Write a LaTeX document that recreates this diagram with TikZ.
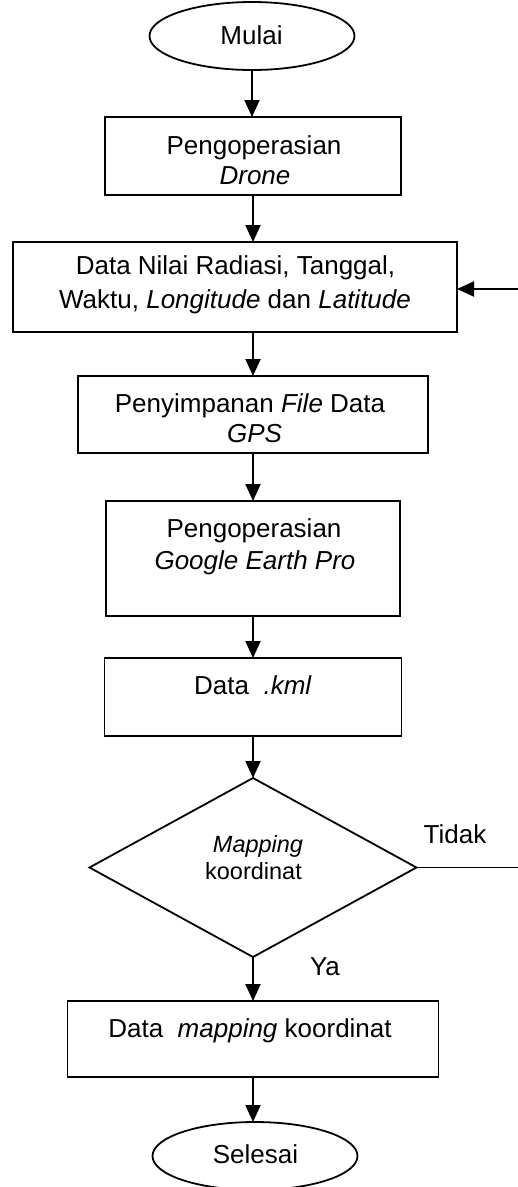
\documentclass[tikz,border=0pt]{standalone}
\usepackage{fontspec}
\setmainfont{Liberation Sans}
\usetikzlibrary{shapes.geometric,arrows.meta}
\begin{document}
\begin{tikzpicture}[x=1pt,y=-1pt,
  box/.style={draw,line width=1.8pt,inner sep=0pt,outer sep=0pt,rectangle},
  term/.style={draw,line width=1.8pt,ellipse,inner sep=0pt,outer sep=0pt,minimum width=205pt,minimum height=68pt},
  txt/.style={anchor=base,inner sep=0pt,font=\fontsize{26}{30}\selectfont},
  smalltxt/.style={anchor=base,inner sep=0pt,font=\fontsize{23.5}{27}\selectfont},
  arr/.style={line width=2pt,-{Triangle[length=17pt,width=15pt]}},
  ln/.style={line width=1.8pt}]
\useasboundingbox (0,0) rectangle (518,1187);

% shapes
\node[term] (Mulai) at (252,36) {};
\node[box,minimum width=296pt,minimum height=78pt] (b1) at (253,156) {};
\node[box,minimum width=444pt,minimum height=90pt] (b2) at (235,287) {};
\node[box,minimum width=350pt,minimum height=77pt] (b3) at (253,414.5) {};
\node[box,minimum width=294pt,minimum height=115pt] (b4) at (253,558.5) {};
\node[box,minimum width=297pt,minimum height=78pt] (b5) at (253,697) {};
\node[draw,line width=1.8pt,diamond,inner sep=0pt,outer sep=0pt,minimum width=327pt,minimum height=179pt] (dec) at (253,867.5) {};
\node[box,minimum width=371pt,minimum height=76pt] (b6) at (253,1039) {};
\node[term] (Selesai) at (255,1156) {};

% texts
\node[txt] (tMulai) at (251.5,44) {Mulai};
\node[txt] (t1a) at (254,154) {Pengoperasian};
\node[txt] (t1b) at (255,184) {\itshape Drone};
\node[txt] (t2a) at (235.5,274) {Data Nilai Radiasi, Tanggal,};
\node[txt] (t2b) at (235,308) {Waktu, \textit{Longitude} dan \textit{Latitude}};
\node[txt] (t3a) at (250,412) {Penyimpanan \textit{File} Data};
\node[txt] (t3b) at (254.5,442) {\itshape GPS};
\node[txt] (t4a) at (254,537) {Pengoperasian};
\node[txt] (t4b) at (255,569) {\itshape Google Earth Pro};
\node[txt] (t5) at (253,694) {Data\ \ \textit{.kml}};
\node[smalltxt] (tda) at (258,852) {\itshape Mapping};
\node[smalltxt] (tdb) at (253.5,879) {koordinat};
\node[txt] (tTidak) at (455,843) {Tidak};
\node[txt] (tYa) at (325,975) {Ya};
\node[txt] (t6) at (250,1037) {Data\ \ \textit{mapping} koordinat};
\node[txt] (tSelesai) at (255.5,1163) {Selesai};

% connectors
\draw[arr] (Mulai.south) -- (Mulai.south |- b1.north);
\draw[arr] (b1.south) -- (b1.south |- b2.north);
\draw[arr] (b3.north |- b2.south) -- (b3.north);
\draw[arr] (b3.south) -- (b4.north);
\draw[arr] (b4.south) -- (b5.north);
\draw[arr] (b5.south) -- (dec.north);
\draw[arr] (dec.south) -- (b6.north);
\draw[arr] (b6.south) -- (b6.south |- Selesai.north);
\coordinate (r1) at (518,867.5);
\draw[ln] (dec.east) -- (r1);
\coordinate (r2) at (518,289);
\draw[arr] (r2) -- (r2 -| b2.east);
\end{tikzpicture}
\end{document}
